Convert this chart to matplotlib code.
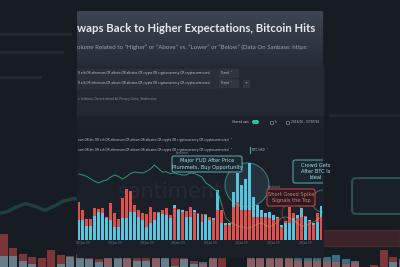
import numpy as np
import matplotlib
matplotlib.use("Agg")
import matplotlib.pyplot as plt
from matplotlib.patches import Rectangle, FancyBboxPatch, Circle

# social volume, "higher"/"above" (blue) vs "lower"/"below" (red), one bar per day
blue_vol = [60, 60, 43, 43, 73, 83, 80, 65, 60, 40, 40, 67, 67, 83, 83, 70, 60, 40, 50, 60,
            80, 77, 75, 65, 105, 90, 90, 70, 68, 90, 77, 55, 75, 60, 65, 150, 50, 50, 50, 145,
            200, 165, 182, 230, 130, 105, 90, 80, 85, 75, 70, 45, 50, 50, 65, 75, 95, 70, 60, 50,
            55, 102]
red_vol = [115, 90, 63, 63, 95, 92, 95, 70, 112, 80, 62, 125, 152, 147, 105, 90, 80, 77, 99, 85,
           83, 90, 97, 75, 95, 92, 85, 88, 98, 85, 80, 78, 77, 70, 60, 90, 90, 45, 45, 100,
           115, 90, 90, 90, 70, 68, 70, 70, 65, 60, 65, 40, 58, 100, 80, 65, 70, 72, 58, 45,
           80, 70]
btc_price = [30300, 30200, 30050, 29800, 29550, 29400, 29600, 29700, 30000, 30200,
             30050, 29800, 30050, 30350, 30500, 30450, 30400, 30550, 30800, 31200,
             30850, 30500, 30530, 30350, 30400, 30300, 30200, 30200, 30400, 30350,
             30200, 30000, 29400, 29150, 28800, 28500, 27200, 25900, 25500, 25300,
             25100, 25000, 24900, 24900, 25100, 25300, 25400, 25200, 25000, 25200,
             25500, 25900, 26000, 25900, 25700, 25400, 25100, 25100, 25300, 25500,
             25700, 26000]
tick_idx = [1, 9, 17, 25, 33, 41, 49, 57]
tick_labels = ["02 Jun 23", "10 Jun 23", "18 Jun 23", "26 Jun 23",
               "04 Jul 23", "12 Jul 23", "20 Jul 23", "28 Jul 23"]

title_txt = "waps Back to Higher Expectations, Bitcoin Hits"
subtitle_txt = ("olume Related to \u201cHigher\u201d or \u201cAbove\u201d vs. \u201cLower\u201d "
                "or \u201cBelow\u201d (Data On Sanbase: https:")
query_a = "R eth OR ethereum OR altcoin OR altcoins OR crypto OR cryptocurrency OR cryptocurrencies)"
query_b = "coin OR btc OR eth OR ethereum OR altcoin OR altcoins OR crypto OR cryptocurrency OR cryptocurrencies)"

BLUE = "#59c4df"
RED = "#df514e"
GREEN = "#2b9a7c"
TEAL = "#63c0c6"


def draw_background(bg):
    # blurred, magnified copy of the screen behind the card
    bg.add_patch(Rectangle((0, 0), 400, 267, color="#171b22", zorder=0))
    for y, w in [(34, 70), (52, 62), (77, 40)]:
        bg.plot([0, w], [y, y], color="#4a515d", lw=2.5, alpha=0.25, solid_capstyle="round")
    bg.plot([330, 400], [115, 115], color="#4c5460", lw=2.5, alpha=0.2)
    n = len(blue_vol)
    xs = -120 + np.arange(n) * 9.5
    for i in range(n):
        hi, lo = max(blue_vol[i], red_vol[i]), min(blue_vol[i], red_vol[i])
        c_hi = BLUE if blue_vol[i] >= red_vol[i] else RED
        c_lo = RED if c_hi == BLUE else BLUE
        bg.bar(xs[i], hi * 0.35, width=8, bottom=285 - hi * 0.35, color=c_hi, alpha=0.5, zorder=1)
        bg.bar(xs[i], lo * 0.35, width=8, bottom=285 - lo * 0.35, color=c_lo, alpha=0.5, zorder=1)
    yline = 207 + (np.array(btc_price[:20]) - 30000) / -60.0
    bg.plot(xs[:20] + 60, yline, color=GREEN, lw=2.5, alpha=0.3, zorder=1)
    bg.add_patch(FancyBboxPatch((352, 178), 60, 36, boxstyle="round,pad=0,rounding_size=4",
                                fc="#1d3136", ec=TEAL, lw=1.5, alpha=0.3, zorder=1))
    bg.add_patch(Rectangle((323, 230), 77, 16, color=RED, alpha=0.18, zorder=1))


def draw_panel(bg):
    # dashboard card
    bg.add_patch(Rectangle((77, 11), 246, 246, color="#1b1f28", zorder=2))
    grad = np.linspace(0, 1, 60).reshape(-1, 1)
    bg.imshow(grad, extent=[77, 323, 66, 11], cmap=matplotlib.colors.LinearSegmentedColormap.from_list(
        "g", ["#3d4653", "#262c36"]), aspect="auto", zorder=3)
    bg.add_patch(Rectangle((77, 66), 246, 50, color="#232831", zorder=3))
    bg.add_patch(Rectangle((77, 116), 246, 12, color="#1d2129", zorder=3))

    bg.text(77, 29, title_txt, fontsize=8.2, fontweight="bold", family="Lato", color="#e6e9ee",
            va="center", ha="left", zorder=4)
    bg.text(77, 47, subtitle_txt, fontsize=4.4, family="Lato", color="#9aa2ad",
            va="center", ha="left", zorder=4)

    for y, plus in [(73, False), (83, True)]:
        bg.add_patch(Rectangle((77, y - 4.5), 140, 9, color="#2a3039", zorder=3))
        bg.text(78, y, query_a, fontsize=2.1, color="#c3c8cf", va="center", zorder=4)
        bg.add_patch(Rectangle((219, y - 4), 19, 8, color="#2f3640", zorder=3))
        bg.text(221, y, "Trend  \u02c5", fontsize=2.1, color="#c3c8cf", va="center", zorder=4)
        if plus:
            bg.add_patch(Rectangle((243, y - 3.5), 6, 7, color="#2f3640", zorder=3))
            bg.text(246, y, "+", fontsize=2.5, color="#c3c8cf", va="center", ha="center", zorder=4)
    bg.text(78, 99, "s, Inflation, Decentralized AI, Privacy Coins, Stablecoins",
            fontsize=2.1, color="#8d95a0", va="center", zorder=4)

    bg.text(232, 122, "Shared axis", fontsize=2.1, color="#c3c8cf", va="center", zorder=4)
    bg.add_patch(FancyBboxPatch((252, 120), 7, 4, boxstyle="round,pad=0,rounding_size=2",
                                fc="#2fc28f", ec="none", zorder=4))
    bg.add_patch(Rectangle((270, 120.5), 3, 3, fc="none", ec="#9aa2ad", lw=0.4, zorder=4))
    bg.text(275, 122, "ln", fontsize=2.1, color="#c3c8cf", va="center", zorder=4)
    bg.add_patch(Rectangle((286, 120.5), 3, 3, fc="none", ec="#9aa2ad", lw=0.4, zorder=4))
    bg.text(291, 122, "2016/06 - 07/07/26", fontsize=2.1, color="#c3c8cf", va="center", zorder=4)

    bg.text(78, 140, query_b + "  \u02c5", fontsize=2.1, color="#c3c8cf", va="center", zorder=4)
    bg.text(78, 150, query_b + "  \u02c5", fontsize=2.1, color="#c3c8cf", va="center", zorder=4)
    bg.plot([250, 250], [147, 153], color="#2fc28f", lw=0.8, zorder=4)
    bg.text(252, 150, "BTC/USD  \u02c5", fontsize=2.1, color="#c3c8cf", va="center", zorder=4)


def plot_chart(fig):
    ax = fig.add_axes([77 / 400, 27 / 267, 246 / 400, 95 / 267], zorder=3)
    ax.patch.set_alpha(0)
    x = np.arange(len(blue_vol))
    hi = np.maximum(blue_vol, red_vol)
    lo = np.minimum(blue_vol, red_vol)
    hi_col = [BLUE if b >= r else RED for b, r in zip(blue_vol, red_vol)]
    lo_col = [RED if b >= r else BLUE for b, r in zip(blue_vol, red_vol)]
    ax.bar(x, hi, width=0.74, color=hi_col, zorder=2)
    ax.bar(x, lo, width=0.74, color=lo_col, zorder=3)
    ax.set_xlim(-0.5, len(x) - 0.5)
    ax.set_ylim(0, 285)
    ax.set_yticks([])
    ax.set_xticks(tick_idx)
    ax.set_xticklabels(tick_labels, fontsize=2.1, color="#7d8590")
    ax.tick_params(axis="x", length=0, pad=1)
    for s in ax.spines.values():
        s.set_visible(False)
    ax.text(0.38, 0.5, "santiment", transform=ax.transAxes, fontsize=15, color="white",
            alpha=0.05, ha="center", va="center", zorder=1)

    ax2 = ax.twinx()
    ax2.plot(x[:37], btc_price[:37], color=GREEN, lw=0.7, zorder=4)
    ax2.plot(x[36:], btc_price[36:], color="#c9a55a", lw=0.6, alpha=0.55, zorder=4)
    ax2.set_ylim(23700, 33200)
    ax2.set_yticks([])
    for s in ax2.spines.values():
        s.set_visible(False)


def draw_annotations(top):
    card = Rectangle((77, 11), 246, 246, transform=top.transData)

    top.add_patch(Circle((247, 185), 22, fc=TEAL, alpha=0.12, ec="none"))
    top.add_patch(Circle((247, 185), 22, fc="none", ec=TEAL, lw=0.8, alpha=0.5))
    top.add_patch(Circle((292, 213), 10, fc="none", ec=RED, lw=0.7, alpha=0.45))
    c = top.add_patch(Circle((323, 201), 11, fc="none", ec=TEAL, lw=0.7, alpha=0.5))
    c.set_clip_path(card)

    top.add_patch(FancyBboxPatch((172, 156), 70, 16, boxstyle="round,pad=0,rounding_size=2",
                                 fc="#1b2a31", ec=TEAL, lw=0.7, alpha=0.9))
    top.text(207, 164, "Major FUD After Price\nPlummets, Buy Opportunity", fontsize=3.7,
             color="#a7dde0", ha="center", va="center", linespacing=1.3)
    top.text(176, 153.5, "Santiment", fontsize=1.8, color="#8d95a0", va="center")

    top.add_patch(FancyBboxPatch((267, 189), 48, 17, boxstyle="round,pad=0,rounding_size=2",
                                 fc="#2a1c22", ec=RED, lw=0.7, alpha=0.9))
    top.text(291, 197.5, "Short Greed Spike\nSignals the Top", fontsize=3.7,
             color="#f0706a", ha="center", va="center", linespacing=1.3)
    top.text(268, 186.5, "Santiment", fontsize=1.8, color="#8d95a0", va="center")

    # this one runs off the right edge of the card
    b = top.add_patch(FancyBboxPatch((293, 160), 44, 23, boxstyle="round,pad=0,rounding_size=2",
                                     fc="#1b2a31", ec=TEAL, lw=0.7, alpha=0.9))
    b.set_clip_path(card)
    t = top.text(316, 171.5, "Crowd Gets\nAfter BTC Is\nIdeal", fontsize=3.7,
                 color="#a7dde0", ha="center", va="center", linespacing=1.3)
    t.set_clip_path(card)


def main():
    fig = plt.figure(figsize=(4, 2.67), dpi=100)
    fig.patch.set_facecolor("#171b22")

    bg = fig.add_axes([0, 0, 1, 1], zorder=0)
    bg.set_xlim(0, 400)
    bg.set_ylim(267, 0)
    bg.axis("off")
    draw_background(bg)
    draw_panel(bg)

    plot_chart(fig)

    top = fig.add_axes([0, 0, 1, 1], zorder=5)
    top.set_xlim(0, 400)
    top.set_ylim(267, 0)
    top.axis("off")
    top.patch.set_alpha(0)
    draw_annotations(top)

    fig.savefig("out.png", dpi=100, facecolor=fig.get_facecolor())


if __name__ == "__main__":
    main()
